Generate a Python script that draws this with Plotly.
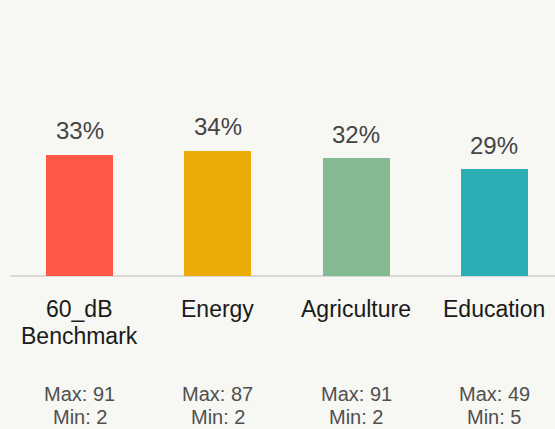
import plotly.graph_objects as go

categories = ["60_dB\nBenchmark", "Energy", "Agriculture", "Education"]
percent_values = [33, 34, 32, 29]
max_values = [91, 87, 91, 49]
min_values = [2, 2, 2, 5]
bar_colors = ["#FF5745", "#EBAB07", "#85BB92", "#2BAFB5"]

x_idx = list(range(len(categories)))
BG = "#F7F7F3"
FONT = "Liberation Sans, Arial, sans-serif"

fig = go.Figure()
fig.add_trace(go.Bar(
    x=x_idx, y=percent_values, width=0.484,
    marker=dict(color=bar_colors, line=dict(width=0)),
    hoverinfo="skip",
))

annotations = []
for i, v in enumerate(percent_values):
    annotations.append(dict(
        x=i, y=v, xref="x", yref="y", text=f"{v}%", showarrow=False,
        yanchor="middle", xanchor="center", yshift=24,
        font=dict(family=FONT, size=24, color="#444444"),
    ))
    for j, line in enumerate(categories[i].split("\n")):
        annotations.append(dict(
            x=i, y=0, xref="x", yref="paper", text=line, showarrow=False,
            yanchor="middle", xanchor="center", yshift=-(33 + 27 * j),
            font=dict(family=FONT, size=23, color="#1a1a1a"),
        ))
    annotations.append(dict(
        x=i, y=0, xref="x", yref="paper", text=f"Max: {max_values[i]}", showarrow=False,
        yanchor="middle", xanchor="center", yshift=-118,
        font=dict(family=FONT, size=20, color="#505050"),
    ))
    annotations.append(dict(
        x=i, y=0, xref="x", yref="paper", text=f"Min: {min_values[i]}", showarrow=False,
        yanchor="middle", xanchor="center", yshift=-141,
        font=dict(family=FONT, size=20, color="#505050"),
    ))

fig.update_layout(
    width=555, height=429,
    margin=dict(l=10, r=0, t=20, b=153),
    paper_bgcolor=BG, plot_bgcolor=BG,
    showlegend=False,
    annotations=annotations,
    xaxis=dict(range=[-0.5025, 3.4375], showticklabels=False, showgrid=False,
               zeroline=False, showline=False, ticks=""),
    yaxis=dict(range=[0, 69.57], showticklabels=False, showgrid=False,
               zeroline=True, zerolinecolor="#D9D9D9", zerolinewidth=2,
               showline=False, ticks=""),
    bargap=0,
)

fig.write_html(
    "out.html",
    config={"displayModeBar": False},
    post_script="document.body.style.margin='0';document.body.style.overflow='hidden';",
)
